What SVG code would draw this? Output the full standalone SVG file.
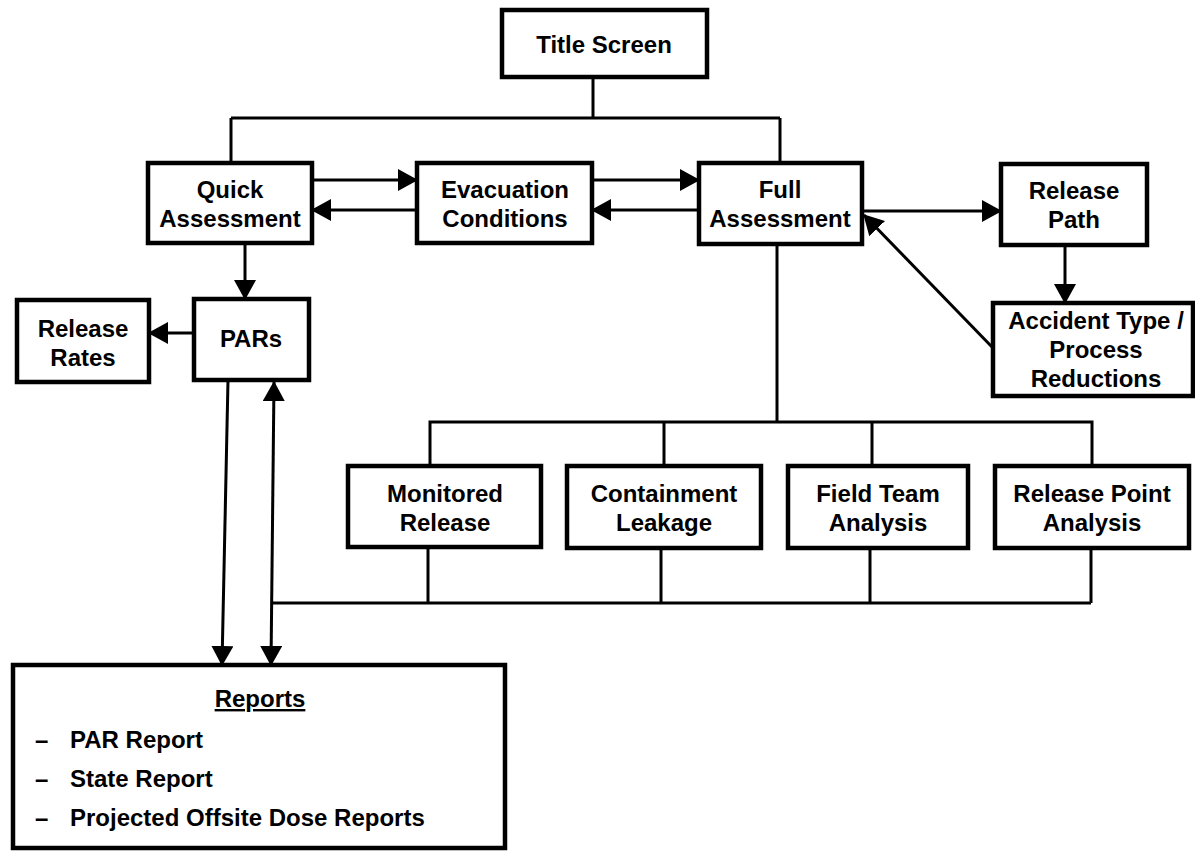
<svg xmlns="http://www.w3.org/2000/svg" width="1195" height="851" viewBox="0 0 1195 851">
<style>
.box{fill:#fff;stroke:#000;stroke-width:4.5}
.t{font-family:"Liberation Sans",Arial,sans-serif;font-weight:bold;font-size:24px;text-anchor:middle;fill:#000}
.l{font-family:"Liberation Sans",Arial,sans-serif;font-weight:bold;font-size:24px;fill:#000}
.c{fill:none;stroke:#000;stroke-width:3}
</style>
<defs>
<marker id="ah" viewBox="0 0 20 22" refX="19" refY="11" markerWidth="20" markerHeight="22" markerUnits="userSpaceOnUse" orient="auto-start-reverse"><path d="M0,0 L20,11 L0,22 Z" fill="#000"/></marker>
</defs>
<rect width="1195" height="851" fill="#fff"/>
<g id="connectors">
<path class="c" d="M593,77 V118 M231,118 H780 M231,118 V163 M780,118 V163"/>
<line class="c" x1="312" y1="180" x2="417" y2="180" marker-end="url(#ah)"/>
<line class="c" x1="417" y1="210" x2="312" y2="210" marker-end="url(#ah)"/>
<line class="c" x1="592" y1="180" x2="699" y2="180" marker-end="url(#ah)"/>
<line class="c" x1="699" y1="210" x2="592" y2="210" marker-end="url(#ah)"/>
<line class="c" x1="862" y1="211" x2="1001" y2="211" marker-end="url(#ah)"/>
<line class="c" x1="1065" y1="245" x2="1065" y2="303" marker-end="url(#ah)"/>
<line class="c" x1="993" y1="348" x2="864" y2="215" marker-end="url(#ah)"/>
<line class="c" x1="245" y1="243" x2="245" y2="299" marker-end="url(#ah)"/>
<line class="c" x1="194" y1="333" x2="149" y2="333" marker-end="url(#ah)"/>
<line class="c" x1="228" y1="380" x2="222" y2="665" marker-end="url(#ah)"/>
<line class="c" x1="271" y1="665" x2="274" y2="382" marker-start="url(#ah)" marker-end="url(#ah)"/>
<path class="c" d="M777,244 V422 M430,466 V422 H1092 V466 M664,422 V466 M872,422 V466"/>
<path class="c" d="M272,603 H1091 M428,548 V603 M661,548 V603 M870,548 V603 M1091,548 V603"/>
</g>
<g id="title"><rect class="box" x="502" y="10" width="205" height="67"/><text class="t" x="604" y="53">Title Screen</text></g>
<g id="quick"><rect class="box" x="148" y="163" width="164" height="80"/><text class="t" x="230" y="198">Quick</text><text class="t" x="230" y="227">Assessment</text></g>
<g id="evac"><rect class="box" x="417" y="163" width="175" height="80"/><text class="t" x="505" y="198">Evacuation</text><text class="t" x="505" y="227">Conditions</text></g>
<g id="full"><rect class="box" x="699" y="163" width="163" height="81"/><text class="t" x="780" y="198">Full</text><text class="t" x="780" y="227">Assessment</text></g>
<g id="releasepath"><rect class="box" x="1001" y="164" width="146" height="81"/><text class="t" x="1074" y="199">Release</text><text class="t" x="1074" y="228">Path</text></g>
<g id="releaserates"><rect class="box" x="17" y="300" width="132" height="82"/><text class="t" x="83" y="337">Release</text><text class="t" x="83" y="366">Rates</text></g>
<g id="pars"><rect class="box" x="194" y="299" width="115" height="81"/><text class="t" x="251" y="347">PARs</text></g>
<g id="accident"><rect class="box" x="993" y="303" width="200" height="93"/><text class="t" x="1096" y="329">Accident Type /</text><text class="t" x="1096" y="358">Process</text><text class="t" x="1096" y="387">Reductions</text></g>
<g id="monitored"><rect class="box" x="348" y="466" width="193" height="81"/><text class="t" x="445" y="502">Monitored</text><text class="t" x="445" y="531">Release</text></g>
<g id="containment"><rect class="box" x="567" y="466" width="194" height="82"/><text class="t" x="664" y="502">Containment</text><text class="t" x="664" y="531">Leakage</text></g>
<g id="fieldteam"><rect class="box" x="788" y="466" width="180" height="82"/><text class="t" x="878" y="502">Field Team</text><text class="t" x="878" y="531">Analysis</text></g>
<g id="releasepoint"><rect class="box" x="995" y="466" width="194" height="82"/><text class="t" x="1092" y="502">Release Point</text><text class="t" x="1092" y="531">Analysis</text></g>
<g id="reports"><rect class="box" x="13" y="665" width="492" height="183"/>
<text class="t" x="260" y="707" style="text-decoration:underline">Reports</text>
<text class="l" y="748"><tspan x="35">–</tspan><tspan x="70">PAR Report</tspan></text>
<text class="l" y="787"><tspan x="35">–</tspan><tspan x="70">State Report</tspan></text>
<text class="l" y="826"><tspan x="35">–</tspan><tspan x="70">Projected Offsite Dose Reports</tspan></text>
</g>
</svg>
